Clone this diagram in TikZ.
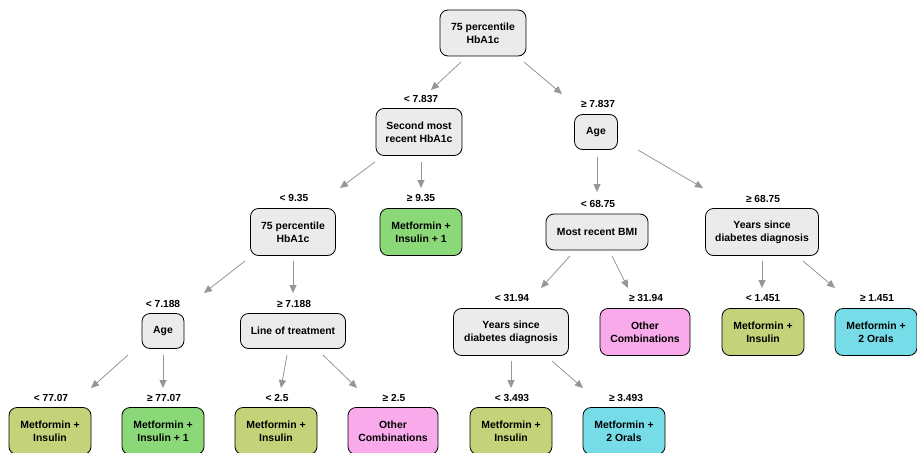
\documentclass[tikz,border=0pt]{standalone}
\usepackage{fontspec}
\setmainfont{Liberation Sans}
\usetikzlibrary{arrows.meta}
\definecolor{boxgray}{RGB}{235,235,235}
\definecolor{olive}{RGB}{196,211,122}
\definecolor{lgreen}{RGB}{138,216,120}
\definecolor{pinkc}{RGB}{248,170,234}
\definecolor{cyanc}{RGB}{118,220,232}
\definecolor{arrgray}{RGB}{150,150,150}
\tikzset{
  box/.style={draw=black, line width=0.8pt, rounded corners=8pt, align=center,
    font=\bfseries\fontsize{10.4}{12.8}\selectfont, inner sep=0pt},
  split/.style={box, fill=boxgray},
  leaf/.style={box, minimum width=82pt, minimum height=47pt},
  lbl/.style={font=\bfseries\fontsize{10.2}{12}\selectfont, inner sep=0pt},
  arr/.style={draw=arrgray, line width=0.8pt, -{Triangle[length=8pt,width=7pt]}},
}
\begin{document}
\begin{tikzpicture}[x=1pt,y=-1pt]
\useasboundingbox (0,0) rectangle (917,452);
\clip (0,0) rectangle (917,452);
% split nodes
\node[split, minimum width=86pt, minimum height=46pt] (root) at (483,33) {75 percentile\\HbA1c};
\node[split, minimum width=86pt, minimum height=47pt] (second) at (419,132) {Second most\\recent HbA1c};
\node[split, minimum width=43pt, minimum height=35pt] (ageR) at (596,132) {Age};
\node[split, minimum width=85pt, minimum height=47pt] (pct2) at (293,232) {75 percentile\\HbA1c};
\node[split, minimum width=102pt, minimum height=36pt] (bmi) at (597,232) {Most recent BMI};
\node[split, minimum width=113pt, minimum height=47pt] (yrsR) at (762,232) {Years since\\diabetes diagnosis};
\node[split, minimum width=42pt, minimum height=35pt] (ageL) at (163,331) {Age};
\node[split, minimum width=105pt, minimum height=35pt] (line) at (293,331) {Line of treatment};
\node[split, minimum width=115pt, minimum height=47pt] (yrsM) at (511,332) {Years since\\diabetes diagnosis};
% leaves
\node[leaf, fill=lgreen] (l1) at (421,232) {Metformin +\\Insulin + 1};
\node[leaf, fill=pinkc, minimum width=90pt] (l2) at (645,332) {Other\\Combinations};
\node[leaf, fill=olive] (l3) at (763,332) {Metformin +\\Insulin};
\node[leaf, fill=cyanc] (l4) at (876,332) {Metformin +\\2 Orals};
\node[leaf, fill=olive] (l5) at (50,431) {Metformin +\\Insulin};
\node[leaf, fill=lgreen] (l6) at (163,431) {Metformin +\\Insulin + 1};
\node[leaf, fill=olive] (l7) at (276,431) {Metformin +\\Insulin};
\node[leaf, fill=pinkc, minimum width=90pt] (l8) at (393,431) {Other\\Combinations};
\node[leaf, fill=olive] (l9) at (511,431) {Metformin +\\Insulin};
\node[leaf, fill=cyanc] (l10) at (624,431) {Metformin +\\2 Orals};
% labels
\node[lbl] (t1) at (421,99) {< 7.837};
\node[lbl] (t2) at (598,104) {≥ 7.837};
\node[lbl] (t3) at (294,198) {< 9.35};
\node[lbl] (t4) at (421,198) {≥ 9.35};
\node[lbl] (t5) at (598,204) {< 68.75};
\node[lbl] (t6) at (763,199) {≥ 68.75};
\node[lbl] (t7) at (163,304) {< 7.188};
\node[lbl] (t8) at (294,304) {≥ 7.188};
\node[lbl] (t9) at (512,298) {< 31.94};
\node[lbl] (t10) at (646,298) {≥ 31.94};
\node[lbl] (t11) at (763,298) {< 1.451};
\node[lbl] (t12) at (877,298) {≥ 1.451};
\node[lbl] (t13) at (51,398) {< 77.07};
\node[lbl] (t14) at (164,398) {≥ 77.07};
\node[lbl] (t15) at (277,398) {< 2.5};
\node[lbl] (t16) at (394,398) {≥ 2.5};
\node[lbl] (t17) at (512,398) {< 3.493};
\node[lbl] (t18) at (626,398) {≥ 3.493};
% arrow end coordinates
\coordinate (a1s) at (461,62);  \coordinate (a1e) at (431,90);
\coordinate (a2s) at (524,62);  \coordinate (a2e) at (562,94);
\coordinate (a3s) at (375,162); \coordinate (a3e) at (340,188);
\coordinate (a4s) at (421,162); \coordinate (a4e) at (421,188);
\coordinate (a5s) at (597,157); \coordinate (a5e) at (597,192);
\coordinate (a6s) at (638,150); \coordinate (a6e) at (703,188);
\coordinate (a7s) at (245,261); \coordinate (a7e) at (204,293);
\coordinate (a8s) at (293,261); \coordinate (a8e) at (293,293);
\coordinate (a9s) at (570,256); \coordinate (a9e) at (541,288);
\coordinate (a10s) at (612,256); \coordinate (a10e) at (628,288);
\coordinate (a11s) at (762,261); \coordinate (a11e) at (762,288);
\coordinate (a12s) at (803,261); \coordinate (a12e) at (835,288);
\coordinate (a13s) at (128,355); \coordinate (a13e) at (91,388);
\coordinate (a14s) at (163,355); \coordinate (a14e) at (163,388);
\coordinate (a15s) at (287,355); \coordinate (a15e) at (281,388);
\coordinate (a16s) at (323,355); \coordinate (a16e) at (357,388);
\coordinate (a17s) at (511,361); \coordinate (a17e) at (511,388);
\coordinate (a18s) at (552,361); \coordinate (a18e) at (583,388);
\foreach \i in {1,...,18} { \draw[arr] (a\i s) -- (a\i e); }
\end{tikzpicture}
\end{document}
